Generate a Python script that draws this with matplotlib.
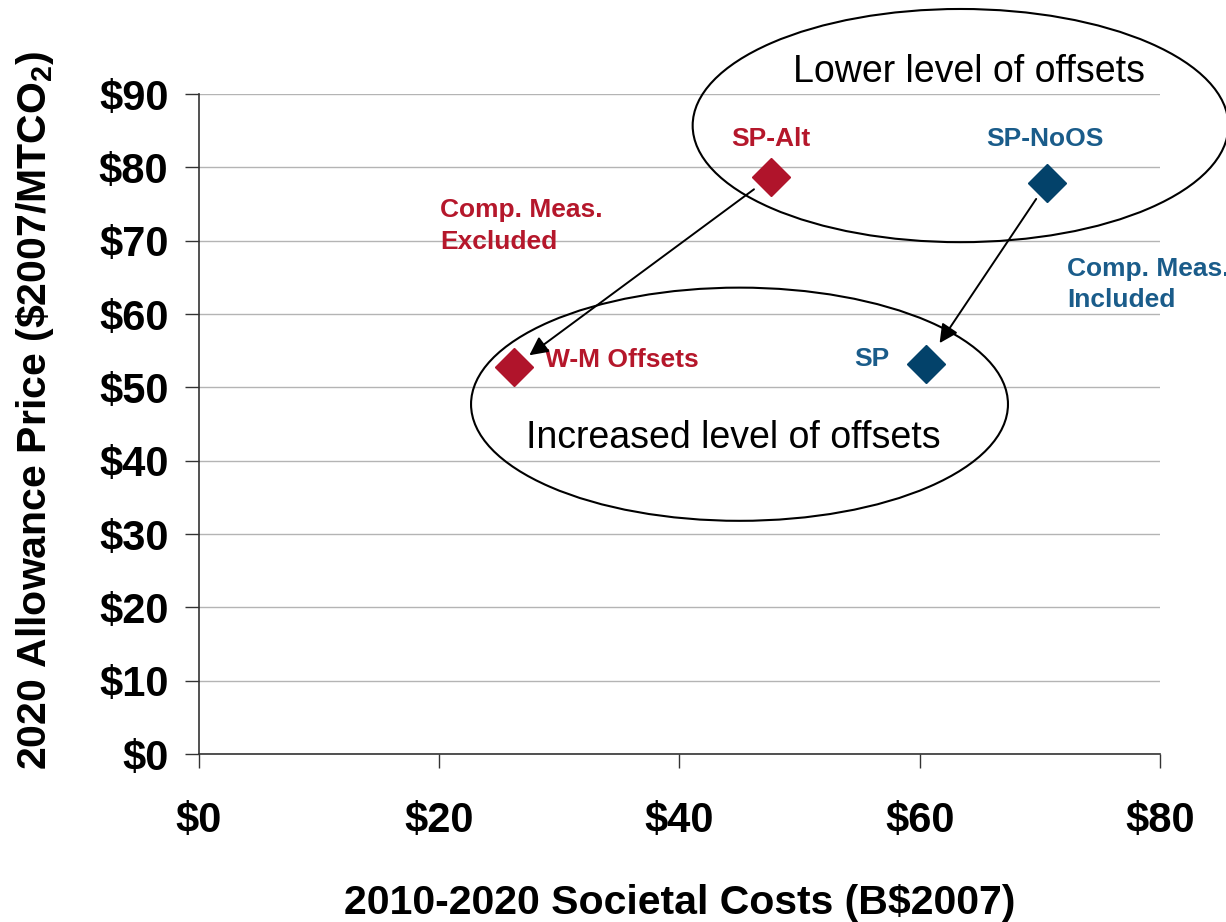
import matplotlib
matplotlib.use("Agg")
import matplotlib.pyplot as plt
from matplotlib.patches import Ellipse

plt.rcParams['font.family'] = ['Liberation Sans', 'DejaVu Sans']
plt.rcParams['mathtext.fontset'] = 'custom'
plt.rcParams['mathtext.rm'] = 'Liberation Sans'
plt.rcParams['mathtext.default'] = 'regular'

# scenario results: societal cost (B$2007) vs 2020 allowance price ($2007/MTCO2)
names = ["SP-Alt", "W-M Offsets", "SP-NoOS", "SP"]
costs = [47.6, 26.2, 70.6, 60.5]
prices = [78.7, 52.8, 77.9, 53.2]
groups = ["red", "red", "blue", "blue"]

xticks = [0, 20, 40, 60, 80]
yticks = [0, 10, 20, 30, 40, 50, 60, 70, 80, 90]

marker_col = {"red": "#B0142B", "blue": "#03426A"}
text_col = {"red": "#B5172B", "blue": "#1A5C8A"}

fig = plt.figure(figsize=(12.26, 9.22), dpi=100)
ax = fig.add_axes([0.1623, 0.1822, 0.7838, 0.7158])
ax.set_xlim(0, 80)
ax.set_ylim(0, 90)

ax.grid(axis='y', color='#B4B4B4', lw=1)
ax.set_axisbelow(True)
for s in ['top', 'right']:
    ax.spines[s].set_visible(False)
for s in ['left', 'bottom']:
    ax.spines[s].set_color('#333333')
    ax.spines[s].set_linewidth(1.2)

ax.set_xticks(xticks)
ax.set_yticks(yticks)
ax.set_xticklabels(["$%d" % v for v in xticks])
ax.set_yticklabels(["$%d" % v for v in yticks])
ax.tick_params(axis='y', length=10, width=1, color='#333333', pad=12,
               labelsize=30)
ax.tick_params(axis='x', length=10, width=1, color='#333333', pad=24,
               labelsize=30)
for lab in ax.get_xticklabels() + ax.get_yticklabels():
    lab.set_fontweight('bold')

ax.set_xlabel("2010-2020 Societal Costs (B\\$2007)", fontsize=29.5,
              fontweight='bold')
ax.set_ylabel(r"2020 Allowance Price (\$2007/MTCO$_2$)", fontsize=29.5,
              fontweight='bold')
ax.xaxis.set_label_coords(0.5005, -0.2258)
ax.yaxis.set_label_coords(-0.1707, 0.521)
ax.xaxis.label.set_va('center')
ax.yaxis.label.set_va('center')

# ellipses
top_e = Ellipse((63.4, 85.7), 44.6, 31.8, fill=False, ec='black', lw=1.5,
                clip_on=False)
bot_e = Ellipse((45.0, 47.7), 44.7, 31.8, fill=False, ec='black', lw=1.5,
                clip_on=False)
ax.add_patch(top_e)
ax.add_patch(bot_e)
ax.text(64.1, 93.0, "Lower level of offsets", fontsize=27, ha='center',
        va='center', clip_on=False)
ax.text(44.5, 43.1, "Increased level of offsets", fontsize=27, ha='center',
        va='center')

# points
for n, x, y, g in zip(names, costs, prices, groups):
    ax.plot(x, y, marker='D', markersize=19, color=marker_col[g],
            linestyle='none', zorder=5, clip_on=False)

# point labels
lab_kw = dict(fontsize=19, fontweight='bold')
ax.text(costs[0], prices[0] + 5.2, names[0], color=text_col["red"],
        ha='center', va='center', **lab_kw)
ax.text(costs[1] + 2.6, prices[1] + 0.9, names[1], color=text_col["red"],
        ha='left', va='center', **lab_kw)
ax.text(costs[2] - 0.2, prices[2] + 6.0, names[2], color=text_col["blue"],
        ha='center', va='center', **lab_kw)
ax.text(costs[3] - 3.0, prices[3] + 0.7, names[3], color=text_col["blue"],
        ha='right', va='center', **lab_kw)
ax.text(20.1, 72.0, "Comp. Meas.\nExcluded", color=text_col["red"],
        ha='left', va='center', linespacing=1.45, **lab_kw)
ax.text(72.3, 64.0, "Comp. Meas.\nIncluded", color=text_col["blue"],
        ha='left', va='center', linespacing=1.35, clip_on=False, **lab_kw)

# arrows between scenarios
arrow_kw = dict(arrowstyle='-|>', color='black', lw=1.4, mutation_scale=28)
ax.annotate("", xy=(costs[1], prices[1]), xytext=(costs[0], prices[0]),
            arrowprops=dict(shrinkA=15, shrinkB=14, **arrow_kw), zorder=6)
ax.annotate("", xy=(costs[3], prices[3]), xytext=(costs[2], prices[2]),
            arrowprops=dict(shrinkA=14, shrinkB=18, **arrow_kw), zorder=6)

fig.savefig("out.png", dpi=100)
